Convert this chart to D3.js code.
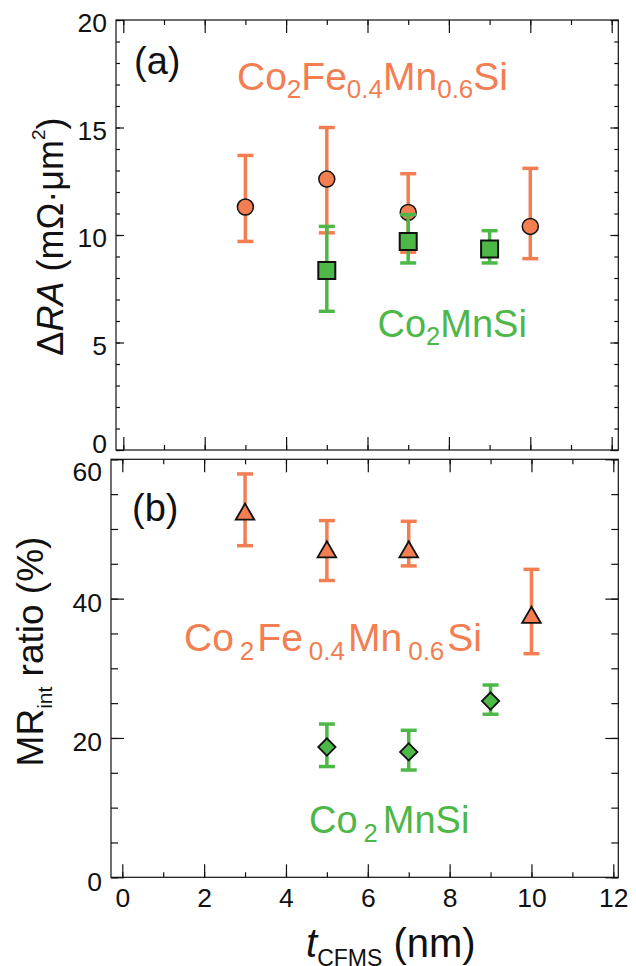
<!DOCTYPE html>
<html>
<head>
<meta charset="utf-8">
<script src="https://cdn.jsdelivr.net/npm/d3@7"></script>
<style>
  body { margin: 0; background: #fff; }
  svg { display: block; font-family: 'Liberation Sans', Arial, sans-serif; }
</style>
</head>
<body>
<div id="chart"></div>
<script>
// CFMS / CMS layer thickness (nm)
const cfmsThickness = [3, 5, 7, 10];
const cmsThickness = [5, 7, 9];

// (a) delta RA, mOhm um^2
const cfmsDeltaRA = [11.3, 12.6, 11.05, 10.4];
const cfmsDeltaRALow = [9.7, 10.1, 9.2, 8.9];
const cfmsDeltaRAHigh = [13.7, 15.0, 12.85, 13.1];
const cmsDeltaRA = [8.35, 9.7, 9.35];
const cmsDeltaRALow = [6.45, 8.7, 8.7];
const cmsDeltaRAHigh = [10.4, 10.95, 10.2];

// (b) MR_int ratio, %
const cfmsMR = [52.1, 46.7, 46.7, 37.3];
const cfmsMRLow = [47.6, 42.6, 44.7, 32.1];
const cfmsMRHigh = [57.9, 51.2, 51.1, 44.2];
const cmsMR = [18.7, 18.0, 25.3];
const cmsMRLow = [15.9, 15.4, 23.4];
const cmsMRHigh = [22.0, 21.1, 27.6];

// ticks
const xTicks = [0, 2, 4, 6, 8, 10, 12];
const xMinorTicks = d3.range(0, 13, 1);
const yTicksA = [0, 5, 10, 15, 20];
const yMinorTicksA = d3.range(0, 21, 1);
const yTicksB = [0, 20, 40, 60];
const yMinorTicksB = d3.range(0, 61, 5);

const width = 636;
const height = 966;
const orange = '#F27E52';
const green = '#4DB748';
const ink = '#111';

const svg = d3
  .select('#chart')
  .append('svg')
  .attr('width', width)
  .attr('height', height);

function rows(xs, vals, lo, hi) {
  return xs.map((t, i) => ({ t, v: vals[i], lo: lo[i], hi: hi[i] }));
}

function drawPanel({ frame, xRange, yDomain, yTicks, yMinor, xLen, yLen, xLabels, yDy }) {
  const x = d3.scaleLinear().domain([0, 12]).range(xRange);
  const y = d3
    .scaleLinear()
    .domain(yDomain)
    .range([frame.bottom, frame.top]);

  const g = svg.append('g');

  const style = (sel) =>
    sel
      .call((a) => a.select('.domain').remove())
      .attr('font-size', 26.5)
      .attr('font-family', null)
      .call((a) => a.selectAll('line').attr('stroke', ink).attr('stroke-width', 1.2));

  // x ticks, bottom and top, pointing inward
  g.append('g')
    .attr('transform', `translate(0,${frame.bottom})`)
    .call(d3.axisBottom(x).tickValues(xMinorTicks).tickSize(-xLen[1]).tickFormat(''))
    .call(style);
  g.append('g')
    .attr('transform', `translate(0,${frame.bottom})`)
    .call(
      d3
        .axisBottom(x)
        .tickValues(xTicks)
        .tickSize(-xLen[0])
        .tickPadding(11)
        .tickFormat(xLabels ? d3.format('d') : '')
    )
    .call(style)
    .call((a) => a.selectAll('text').attr('fill', ink));
  g.append('g')
    .attr('transform', `translate(0,${frame.top})`)
    .call(d3.axisTop(x).tickValues(xMinorTicks).tickSize(-xLen[1]).tickFormat(''))
    .call(style);
  g.append('g')
    .attr('transform', `translate(0,${frame.top})`)
    .call(d3.axisTop(x).tickValues(xTicks).tickSize(-xLen[0]).tickFormat(''))
    .call(style);

  // y ticks, left and right, pointing inward
  g.append('g')
    .attr('transform', `translate(${frame.left},0)`)
    .call(d3.axisLeft(y).tickValues(yMinor).tickSize(-yLen[1]).tickFormat(''))
    .call(style);
  g.append('g')
    .attr('transform', `translate(${frame.left},0)`)
    .call(d3.axisLeft(y).tickValues(yTicks).tickSize(-yLen[0]).tickPadding(9))
    .call(style)
    .call((a) => a.selectAll('text').attr('fill', ink).attr('dy', yDy));
  g.append('g')
    .attr('transform', `translate(${frame.right},0)`)
    .call(d3.axisRight(y).tickValues(yMinor).tickSize(-yLen[1]).tickFormat(''))
    .call(style);
  g.append('g')
    .attr('transform', `translate(${frame.right},0)`)
    .call(d3.axisRight(y).tickValues(yTicks).tickSize(-yLen[0]).tickFormat(''))
    .call(style);

  g.append('rect')
    .attr('x', frame.left)
    .attr('y', frame.top)
    .attr('width', frame.right - frame.left)
    .attr('height', frame.bottom - frame.top)
    .attr('fill', 'none')
    .attr('stroke', ink)
    .attr('stroke-width', 1.2);

  return { g, x, y };
}

function errorBars(panel, data, color) {
  const { g, x, y } = panel;
  const eb = g
    .append('g')
    .attr('stroke', color)
    .attr('stroke-width', 3.5)
    .selectAll('g')
    .data(data)
    .join('g');
  eb.append('line')
    .attr('x1', (d) => x(d.t))
    .attr('x2', (d) => x(d.t))
    .attr('y1', (d) => y(d.lo))
    .attr('y2', (d) => y(d.hi));
  eb.selectAll('line.cap')
    .data((d) => [d.lo, d.hi].map((v) => ({ t: d.t, v })))
    .join('line')
    .attr('class', 'cap')
    .attr('x1', (d) => x(d.t) - 8)
    .attr('x2', (d) => x(d.t) + 8)
    .attr('y1', (d) => y(d.v))
    .attr('y2', (d) => y(d.v));
}

function markers(panel, data, color, type, size, rotate, strokeWidth) {
  const { g, x, y } = panel;
  g.append('g')
    .selectAll('path')
    .data(data)
    .join('path')
    .attr('d', d3.symbol(type, size))
    .attr('transform', (d) => `translate(${x(d.t)},${y(d.v)}) rotate(${rotate})`)
    .attr('fill', color)
    .attr('stroke', ink)
    .attr('stroke-width', strokeWidth);
}

// text with sub/superscripts: segments [text, kind, dx]
function richText(sel, segments, size, smallSize) {
  let shift = 0;
  segments.forEach(([t, kind, dx]) => {
    const target = kind === 'sub' ? size * 0.23 : kind === 'sup' ? -size * 0.5 : 0;
    const span = sel
      .append('tspan')
      .attr('dy', target - shift)
      .attr('font-size', kind === 'sub' || kind === 'sup' ? smallSize : size)
      .text(t);
    if (dx) span.attr('dx', dx);
    if (kind === 'it') span.attr('font-style', 'italic');
    shift = target;
  });
}

function label(x, y, color, segments, size, smallSize, rotate) {
  const t = svg
    .append('text')
    .attr('fill', color)
    .attr('transform', rotate ? `translate(${x},${y}) rotate(-90)` : `translate(${x},${y})`)
    .attr('text-anchor', rotate ? 'middle' : 'start');
  richText(t, segments, size, smallSize);
  return t;
}

// ---- panel (a)
const panelA = drawPanel({
  frame: { left: 116, right: 618.3, top: 20, bottom: 450 },
  xRange: [123.3, 611.7],
  yDomain: [0, 20],
  yTicks: yTicksA,
  yMinor: yMinorTicksA,
  xLen: [13, 5],
  yLen: [8, 4],
  xLabels: false,
  yDy: (d) => (d === 0 ? '0.1em' : '0.45em'),
});

errorBars(panelA, rows(cfmsThickness, cfmsDeltaRA, cfmsDeltaRALow, cfmsDeltaRAHigh), orange);
markers(panelA, rows(cfmsThickness, cfmsDeltaRA, cfmsDeltaRALow, cfmsDeltaRAHigh), orange, d3.symbolCircle, Math.PI * 64, 0, 1.5);
errorBars(panelA, rows(cmsThickness, cmsDeltaRA, cmsDeltaRALow, cmsDeltaRAHigh), green);
markers(panelA, rows(cmsThickness, cmsDeltaRA, cmsDeltaRALow, cmsDeltaRAHigh), green, d3.symbolSquare, 17 * 17, 0, 2);

// ---- panel (b)
const panelB = drawPanel({
  frame: { left: 111, right: 618.3, top: 459.3, bottom: 877.3 },
  xRange: [122.3, 613.3],
  yDomain: [0, 60],
  yTicks: yTicksB,
  yMinor: yMinorTicksB,
  xLen: [13, 5],
  yLen: [13, 7],
  xLabels: true,
  yDy: (d) => (d === 60 ? '0.8em' : '0.48em'),
});

errorBars(panelB, rows(cfmsThickness, cfmsMR, cfmsMRLow, cfmsMRHigh), orange);
markers(panelB, rows(cfmsThickness, cfmsMR, cfmsMRLow, cfmsMRHigh), orange, d3.symbolTriangle, 150, 0, 1.8);
errorBars(panelB, rows(cmsThickness, cmsMR, cmsMRLow, cmsMRHigh), green);
markers(panelB, rows(cmsThickness, cmsMR, cmsMRLow, cmsMRHigh), green, d3.symbolSquare, 150, 45, 1.8);

// ---- labels
label(134, 73.5, ink, [['(a)']], 38, 24);
label(132, 520.5, ink, [['(b)']], 38, 24);

label(237, 89.5, orange, [['Co'], ['2', 'sub'], ['Fe'], ['0.4', 'sub'], ['Mn'], ['0.6', 'sub'], ['Si']], 39, 26);
label(377.5, 336.5, green, [['Co'], ['2', 'sub'], ['MnSi']], 38, 25.5);
label(184, 651, orange, [['Co'], ['2', 'sub', 6], ['Fe', null, 3], ['0.4', 'sub', 6], ['Mn', null, 3], ['0.6', 'sub', 6], ['Si', null, 3]], 39, 26);
label(309, 833, green, [['Co'], ['2', 'sub', 6], ['MnSi', null, 5]], 38, 25.5);

// axis titles
label(63.3, 236.5, ink, [['Δ'], ['RA', 'it'], [' (mΩ·μm'], ['2', 'sup'], [')']], 36, 19, true);
label(43.3, 651.5, ink, [['MR'], ['int', 'sub'], [' ratio (%)']], 37, 21, true);
label(306, 957, ink, [['t', 'it'], ['CFMS', 'sub'], [' (nm)']], 40, 23);
</script>
</body>
</html>
